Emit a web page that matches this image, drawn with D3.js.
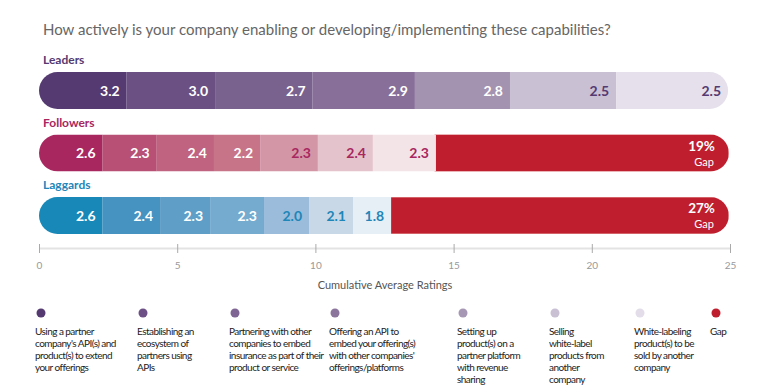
<!DOCTYPE html>
<html>
<meta charset="utf-8">
<style>
body { margin: 0; background: #fff; font-family: Lato, 'Open Sans', sans-serif; }
svg { display: block; }
text.title { font-size: 15px; fill: #666; }
text.group { font-size: 12px; font-weight: 700; }
text.value { font-size: 14px; font-weight: 700; text-anchor: end; }
text.gap { fill: #fff; text-anchor: end; }
.axis path { stroke: #e3e3e3; stroke-width: 2; }
.axis line { stroke: #aaa; }
.axis text { font-size: 10px; fill: #999; font-family: Lato, sans-serif; }
text.axislabel { font-size: 11px; fill: #555; text-anchor: middle; }
text.legend { font-size: 10px; fill: #222; letter-spacing: -0.55px; }
</style>
<body>
<svg width="784" height="385"></svg>
<script src="https://cdn.jsdelivr.net/npm/d3@7"></script>
<script>

var groups = ["Leaders", "Followers", "Laggards"];

// ratings shown in each segment
var leadersValues = [3.2, 3.0, 2.7, 2.9, 2.8, 2.5, 2.5];
var followersValues = [2.6, 2.3, 2.4, 2.2, 2.3, 2.4, 2.3];
var laggardsValues = [2.6, 2.4, 2.3, 2.3, 2.0, 2.1, 1.8];

// cumulative segment ends
var leadersEnds = [3.17, 6.37, 9.90, 13.60, 17.04, 20.88, 24.93];
var followersEnds = [2.30, 4.26, 6.33, 8.00, 10.09, 12.08, 14.36];
var laggardsEnds = [2.30, 4.38, 6.19, 8.14, 9.77, 11.36, 12.74];

var gapEnd = 24.96;
var gapLabels = {Followers: "19%", Laggards: "27%"};

var xTicks = [0, 5, 10, 15, 20, 25];

var capabilities = [
  ["Using a partner", "company's API(s) and", "product(s) to extend", "your offerings"],
  ["Establishing an", "ecosystem of", "partners using", "APIs"],
  ["Partnering with other", "companies to embed", "insurance as part of their", "product or service"],
  ["Offering an API to", "embed your offering(s)", "with other companies'", "offerings/platforms"],
  ["Setting up", "product(s) on a", "partner platform", "with revenue", "sharing"],
  ["Selling", "white-label", "products from", "another", "company"],
  ["White-labeling", "product(s) to be", "sold by another", "company"],
  ["Gap"]
];

var palettes = {
  Leaders: ["#553a72", "#6b5084", "#7a628f", "#876f99", "#a493b0", "#c9c0d3", "#e5e0eb"],
  Followers: ["#a8275f", "#b84f74", "#bf6380", "#c87488", "#d396a7", "#e5c3cc", "#f2e4e7"],
  Laggards: ["#1788b8", "#4692c0", "#5f9fc7", "#74abcf", "#9bbcda", "#c9d8e7", "#e6eef6"]
};
var dark = {Leaders: "#553a72", Followers: "#a8275f", Laggards: "#1e86b8"};
var whiteUpTo = {Leaders: 5, Followers: 4, Laggards: 4};
var gapColor = "#be1e2d";
var legendColors = ["#553a72", "#6d5186", "#7f6594", "#8b759c", "#a697b5", "#c9c0d3", "#e2dde8", gapColor];
var legendX = [35, 137, 229, 329, 457, 549, 634, 710];

var series = {
  Leaders: {values: leadersValues, ends: leadersEnds},
  Followers: {values: followersValues, ends: followersEnds},
  Laggards: {values: laggardsValues, ends: laggardsEnds}
};

var svg = d3.select("svg");

var x = d3.scaleLinear().domain([0, 25]).range([39, 730]);
var y = d3.scaleBand().domain(groups).range([72, 259.5]);
var barH = 37;

svg.append("text").attr("class", "title").attr("x", 43).attr("y", 35)
  .text("How actively is your company enabling or developing/implementing these capabilities?");

groups.forEach(function(g, gi) {
  var s = series[g];
  var top = y(g);
  var total = g == "Leaders" ? s.ends[s.ends.length - 1] : gapEnd;

  var clipId = "clip" + gi;
  svg.append("clipPath").attr("id", clipId).append("rect")
    .attr("x", x(0)).attr("y", top).attr("width", x(total) - x(0)).attr("height", barH)
    .attr("rx", barH / 2);

  var row = svg.append("g").attr("clip-path", "url(#" + clipId + ")");

  var segs = s.values.map(function(v, i) {
    return {v: v, x0: i ? s.ends[i - 1] : 0, x1: s.ends[i], i: i};
  });

  if (g != "Leaders") {
    row.append("rect")
      .attr("x", x(s.ends[s.ends.length - 1]) - 1).attr("y", top)
      .attr("width", x(gapEnd) - x(s.ends[s.ends.length - 1]) + 1).attr("height", barH)
      .attr("fill", gapColor).attr("stroke", "#e8a4a4").attr("stroke-width", 1);
  }

  row.selectAll(null).data(segs).enter().append("rect")
    .attr("x", function(d) { return x(d.x0); })
    .attr("y", top)
    .attr("width", function(d) { return x(d.x1) - x(d.x0); })
    .attr("height", barH)
    .attr("fill", function(d) { return palettes[g][d.i]; });

  svg.selectAll(null).data(segs).enter().append("text")
    .attr("class", "value")
    .attr("x", function(d) { return x(d.x1) - 7; })
    .attr("y", top + barH / 2 + 5)
    .attr("fill", function(d) { return d.i < whiteUpTo[g] ? "#fff" : dark[g]; })
    .text(function(d) { return d.v.toFixed(1); });

  svg.append("text").attr("class", "group").attr("x", 43).attr("y", top - 8)
    .attr("fill", dark[g]).text(g);

  if (gapLabels[g]) {
    svg.append("text").attr("class", "gap").attr("x", x(gapEnd) - 14).attr("y", top + 16)
      .style("font-size", "13.5px").style("font-weight", 700).text(gapLabels[g]);
    svg.append("text").attr("class", "gap").attr("x", x(gapEnd) - 15).attr("y", top + 31)
      .style("font-size", "11px").text("Gap");
  }
});

var axis = svg.append("g").attr("class", "axis")
  .attr("transform", "translate(0,248)")
  .call(d3.axisBottom(x).tickValues(xTicks).tickSizeOuter(0).tickSizeInner(5).tickPadding(9));
axis.selectAll(".tick line").attr("y1", -4).attr("y2", 5);

svg.append("text").attr("class", "axislabel").attr("x", 385).attr("y", 289)
  .text("Cumulative Average Ratings");

var legend = svg.selectAll(null).data(capabilities).enter().append("g")
  .attr("transform", function(d, i) { return "translate(" + legendX[i] + ",0)"; });

legend.append("circle").attr("cx", 6).attr("cy", 313).attr("r", 4.5)
  .attr("fill", function(d, i) { return legendColors[i]; });

legend.append("text").attr("class", "legend").attr("y", 335)
  .selectAll("tspan").data(function(d) { return d; }).enter().append("tspan")
  .attr("x", 0).attr("dy", function(d, i) { return i ? 12 : 0; })
  .text(function(d) { return d; });

</script>
</body>
</html>
